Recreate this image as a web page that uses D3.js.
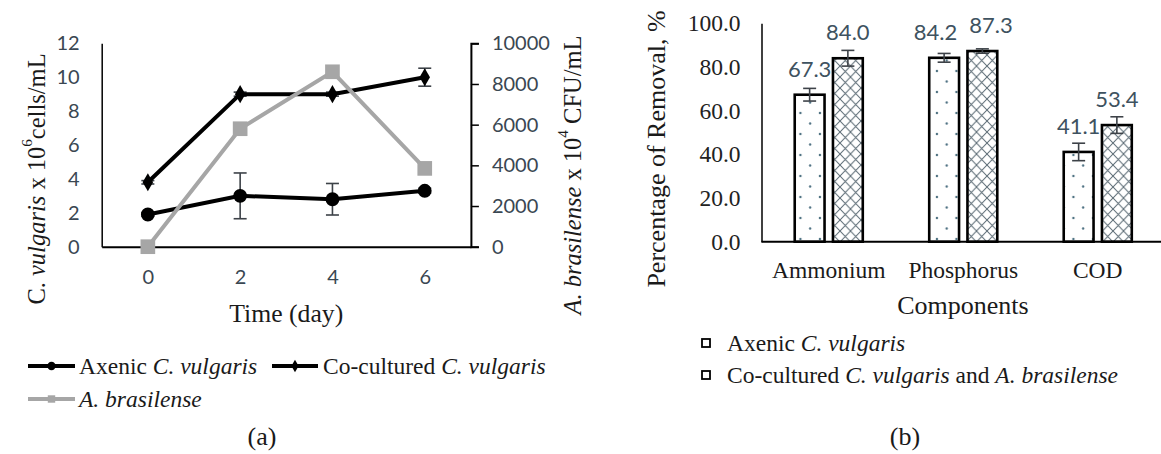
<!DOCTYPE html>
<html><head><meta charset="utf-8">
<script src="https://cdn.jsdelivr.net/npm/d3@7"></script>
<style>body{margin:0;background:#fff}svg{display:block}</style>
</head><body>
<svg id="c" width="1161" height="454"></svg>
<script>
// ---------- data (a) ----------
const days = [0, 2, 4, 6];
const axenicCells = [1.9, 3.0, 2.8, 3.3];
const axenicErr = [0.1, 1.35, 0.93, 0.15];
const coculturedCells = [3.8, 9.0, 9.0, 10.0];
const coculturedErr = [0.1, 0.12, 0.12, 0.53];
const brasilenseCFU = [0, 5800, 8600, 3850];
const leftTicks = [0, 2, 4, 6, 8, 10, 12];
const rightTicks = [0, 2000, 4000, 6000, 8000, 10000];
// ---------- data (b) ----------
const components = ["Ammonium", "Phosphorus", "COD"];
const removalAxenic = [67.3, 84.2, 41.1];
const removalAxenicErr = [2.9, 2.0, 4.0];
const removalCo = [84.0, 87.3, 53.4];
const removalCoErr = [3.6, 1.0, 3.8];
const removalTicks = [0, 20, 40, 60, 80, 100];

const svg = d3.select("#c");
const SERIF = "'Liberation Serif','Times New Roman',serif";
const SANS = "Lato,'Open Sans',sans-serif";
const TICKC = "#3a4752";

// ============ chart (a) ============
const A = {l: 101.7, r: 470.9, t: 43.3, b: 246.7};
const xA = d3.scaleLinear().domain([-1, 7]).range([A.l, A.r]);
const yL = d3.scaleLinear().domain([0, 12]).range([A.b, A.t]);
const yR = d3.scaleLinear().domain([0, 10000]).range([A.b, A.t]);
const gA = svg.append("g");

function styleAxis(g, fam, size, col) {
  g.attr("font-family", fam).attr("font-size", size);
  g.selectAll("text").attr("fill", col);
}
const axL = gA.append("g").attr("transform", `translate(${A.l},0)`)
  .call(d3.axisLeft(yL).tickValues(leftTicks).tickSize(0).tickPadding(22));
styleAxis(axL, SANS, 20, TICKC);
axL.select(".domain").attr("stroke", "#000").attr("stroke-width", 1.5);

const axR = gA.append("g").attr("transform", `translate(${A.r},0)`)
  .call(d3.axisRight(yR).tickValues(rightTicks).tickSize(8).tickPadding(13).tickFormat(d3.format("d")));
styleAxis(axR, SANS, 20, TICKC);
axR.select(".domain").attr("stroke", "#000").attr("stroke-width", 2);
axR.selectAll(".tick line").attr("stroke", "#000").attr("stroke-width", 1.5);

const axX = gA.append("g").attr("transform", `translate(0,${A.b})`)
  .call(d3.axisBottom(xA).tickValues(days).tickSize(0).tickPadding(23));
styleAxis(axX, SANS, 20, TICKC);
axX.select(".domain").attr("stroke", "#000").attr("stroke-width", 2);

// titles
function supTitle(g, parts, fs) {
  const t = g.append("text").attr("font-family", SERIF).attr("font-size", fs).attr("fill", "#1a1a1a");
  parts.forEach(p => {
    const ts = t.append("tspan").text(p.t);
    if (p.i) ts.attr("font-style", "italic");
    if (p.sup) ts.attr("font-size", fs * 0.62).attr("dy", -fs * 0.4);
    if (p.after) ts.attr("dy", fs * 0.4);
  });
  return t;
}
supTitle(gA, [{t: "C. "}, {t: "vulgaris", i: 1}, {t: " x 10"}, {t: "6", sup: 1}, {t: "cells/mL", after: 1}], 24.5)
  .attr("text-anchor", "middle").attr("dominant-baseline", "central")
  .attr("transform", "translate(36,179) rotate(-90)");
supTitle(gA, [{t: "A. brasilense", i: 1}, {t: " x 10"}, {t: "4", sup: 1}, {t: " CFU/mL", after: 1}], 24.5)
  .attr("text-anchor", "middle").attr("dominant-baseline", "central")
  .attr("transform", "translate(572,175) rotate(-90)");
gA.append("text").attr("x", (A.l + A.r) / 2).attr("y", 322).attr("text-anchor", "middle")
  .attr("font-family", SERIF).attr("font-size", 25.7).attr("fill", "#1a1a1a").text("Time (day)");

// error bars
const ERRC = "#3d4248";
function lineErr(vals, errs, sy) {
  const g = gA.append("g").attr("stroke", ERRC).attr("stroke-width", 1.6);
  days.forEach((d, i) => {
    const x = xA(d), y1 = sy(vals[i] + errs[i]), y2 = sy(vals[i] - errs[i]);
    g.append("line").attr("x1", x).attr("x2", x).attr("y1", y1).attr("y2", y2);
    g.append("line").attr("x1", x - 6.5).attr("x2", x + 6.5).attr("y1", y1).attr("y2", y1);
    g.append("line").attr("x1", x - 6.5).attr("x2", x + 6.5).attr("y1", y2).attr("y2", y2);
  });
}
function series(vals, sy, col, sym, size) {
  const line = d3.line().x((d, i) => xA(days[i])).y(d => sy(d));
  gA.append("path").datum(vals).attr("d", line).attr("fill", "none")
    .attr("stroke", col).attr("stroke-width", 4).attr("stroke-linejoin", "miter");
  gA.append("g").selectAll("path").data(vals).join("path")
    .attr("transform", (d, i) => `translate(${xA(days[i])},${sy(d)})`)
    .attr("d", d3.symbol().type(sym).size(size)).attr("fill", col);
}
lineErr(axenicCells, axenicErr, yL);
lineErr(coculturedCells, coculturedErr, yL);
series(axenicCells, yL, "#000", d3.symbolCircle, 150);
series(coculturedCells, yL, "#000", d3.symbolDiamond, 95);
series(brasilenseCFU, yR, "#a6a6a6", d3.symbolSquare, 215);

// legend (a)
function legLine(g, x1, x2, y, col, sym, size) {
  g.append("line").attr("x1", x1).attr("x2", x2).attr("y1", y).attr("y2", y)
    .attr("stroke", col).attr("stroke-width", 4);
  g.append("path").attr("transform", `translate(${(x1 + x2) / 2},${y})`)
    .attr("d", d3.symbol().type(sym).size(size)).attr("fill", col);
}
function legText(g, x, y, parts, fs) {
  const t = g.append("text").attr("x", x).attr("y", y).attr("dominant-baseline", "central")
    .attr("font-family", SERIF).attr("font-size", fs).attr("fill", "#1a1a1a");
  parts.forEach(p => { const s = t.append("tspan").text(p.t); if (p.i) s.attr("font-style", "italic"); });
  return t;
}
const lgA = svg.append("g");
legLine(lgA, 28, 75, 366, "#000", d3.symbolCircle, 55);
legText(lgA, 79, 366, [{t: "Axenic "}, {t: "C. vulgaris", i: 1}], 23.5);
legLine(lgA, 272, 318, 366, "#000", d3.symbolDiamond, 45);
legText(lgA, 323, 366, [{t: "Co-cultured "}, {t: "C. vulgaris", i: 1}], 23.5);
legLine(lgA, 28, 75, 399, "#a6a6a6", d3.symbolSquare, 55);
legText(lgA, 79, 399, [{t: "A. brasilense", i: 1}], 23.5);

// ============ chart (b) ============
const B = {l: 761.5, r: 1165, t: 23.3, b: 241.7};
const yB = d3.scaleLinear().domain([0, 100]).range([B.b, B.t]);
const x0 = d3.scaleBand().domain(components).range([B.l, B.r]).paddingInner(0.494).paddingOuter(0.247);
const x1 = d3.scaleBand().domain([0, 1]).range([0, x0.bandwidth()]).paddingInner(0.22);
const gB = svg.append("g");

const defs = svg.append("defs");
const dots = defs.append("pattern").attr("id", "dots").attr("patternUnits", "userSpaceOnUse")
  .attr("width", 19.5).attr("height", 21).attr("x", x0(components[0]) + 5.7).attr("y", 8);
[[0, 0], [19.5, 0], [0, 21], [19.5, 21], [9.75, 10.5]].forEach(([cx, cy]) =>
  dots.append("circle").attr("cx", cx).attr("cy", cy).attr("r", 1.2).attr("fill", "#4f7283"));
const hatch = defs.append("pattern").attr("id", "hatch").attr("patternUnits", "userSpaceOnUse")
  .attr("width", 10.5).attr("height", 11);
hatch.append("path").attr("d", "M0,0L10.5,11M10.5,0L0,11").attr("stroke", "#5a6a74").attr("stroke-width", 1).attr("fill", "none");

const axBY = gB.append("g").attr("transform", `translate(${B.l},0)`)
  .call(d3.axisLeft(yB).tickValues(removalTicks).tickSize(0).tickPadding(21).tickFormat(d3.format(".1f")));
styleAxis(axBY, SERIF, 23.5, "#222");
axBY.select(".domain").attr("stroke", "#000").attr("stroke-width", 1.5);

const groups = [
  {vals: removalAxenic, errs: removalAxenicErr, fill: "url(#dots)"},
  {vals: removalCo, errs: removalCoErr, fill: "url(#hatch)"}
];
const labels = [];
groups.forEach((s, k) => {
  components.forEach((c, i) => {
    const x = x0(c) + x1(k), w = x1.bandwidth(), v = s.vals[i];
    gB.append("rect").attr("x", x).attr("y", yB(v)).attr("width", w).attr("height", yB(0) - yB(v))
      .attr("fill", "#fff");
    gB.append("rect").attr("x", x).attr("y", yB(v)).attr("width", w).attr("height", yB(0) - yB(v))
      .attr("fill", s.fill).attr("stroke", "#000").attr("stroke-width", 2.6);
    const cx = x + w / 2, e = s.errs[i];
    const eg = gB.append("g").attr("stroke", ERRC).attr("stroke-width", 1.6);
    eg.append("line").attr("x1", cx).attr("x2", cx).attr("y1", yB(v + e)).attr("y2", yB(v - e));
    eg.append("line").attr("x1", cx - 6.5).attr("x2", cx + 6.5).attr("y1", yB(v + e)).attr("y2", yB(v + e));
    eg.append("line").attr("x1", cx - 6.5).attr("x2", cx + 6.5).attr("y1", yB(v - e)).attr("y2", yB(v - e));
    labels.push({i, k, x: cx, y: yB(v) - 18, text: d3.format(".1f")(v)});
  });
});
const axBX = gB.append("g").attr("transform", `translate(0,${B.b})`)
  .call(d3.axisBottom(x0).tickSize(0).tickPadding(19.5));
styleAxis(axBX, SERIF, 23.5, "#1a1a1a");
axBX.select(".domain").attr("d", `M${B.l},0H1161`).attr("stroke", "#000").attr("stroke-width", 2);

// value labels with simple overlap avoidance
const lt = gB.append("g").attr("font-family", SANS).attr("font-size", 22).attr("fill", "#3e5260")
  .attr("text-anchor", "middle");
const nodes = labels.map(l => ({...l, el: lt.append("text").attr("y", l.y).text(l.text)}));
nodes.forEach(n => n.w = n.el.node().getComputedTextLength());
components.forEach((c, i) => {
  const a = nodes.find(n => n.i === i && n.k === 0), b = nodes.find(n => n.i === i && n.k === 1);
  const need = (a.w + b.w) / 2 + 12;
  if (Math.abs(a.y - b.y) < 20 && b.x - a.x < need) {
    const push = (need - (b.x - a.x)) / 2; a.x -= push; b.x += push;
  }
});
nodes.forEach(n => n.el.attr("x", n.x));

gB.append("text").attr("text-anchor", "middle").attr("dominant-baseline", "central")
  .attr("transform", "translate(656,149) rotate(-90)")
  .attr("font-family", SERIF).attr("font-size", 26).attr("fill", "#1a1a1a").text("Percentage of Removal, %");
gB.append("text").attr("x", 963).attr("y", 314).attr("text-anchor", "middle")
  .attr("font-family", SERIF).attr("font-size", 26).attr("fill", "#1a1a1a").text("Components");

// legend (b)
const lgB = svg.append("g");
[[343, [{t: "Axenic "}, {t: "C. vulgaris", i: 1}]],
 [375, [{t: "Co-cultured "}, {t: "C. vulgaris", i: 1}, {t: " and "}, {t: "A. brasilense", i: 1}]]]
  .forEach(([y, parts]) => {
    lgB.append("rect").attr("x", 702).attr("y", y - 4).attr("width", 8).attr("height", 8)
      .attr("fill", "#fff").attr("stroke", "#000").attr("stroke-width", 1.8);
    legText(lgB, 727, y, parts, 23.5);
  });

// captions
svg.append("text").attr("x", 262).attr("y", 445).attr("text-anchor", "middle")
  .attr("font-family", SERIF).attr("font-size", 26).attr("fill", "#1a1a1a").text("(a)");
svg.append("text").attr("x", 905).attr("y", 445).attr("text-anchor", "middle")
  .attr("font-family", SERIF).attr("font-size", 26).attr("fill", "#1a1a1a").text("(b)");
</script>
</body></html>
